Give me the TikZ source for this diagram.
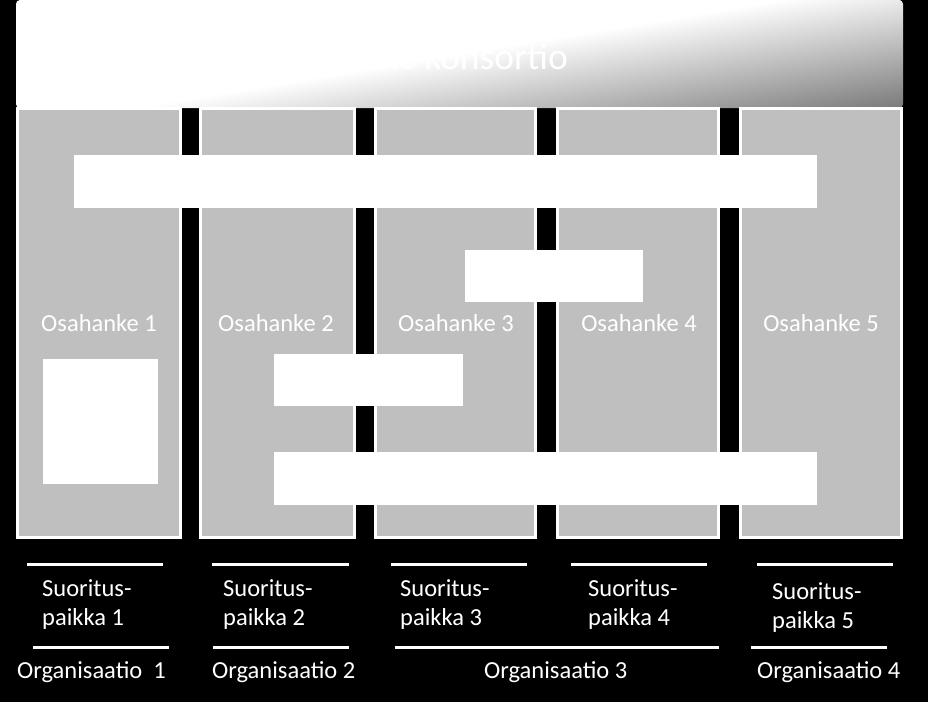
\documentclass[tikz,border=0pt]{standalone}
\usepackage{fontspec}
\setmainfont{Carlito}
\definecolor{colgray}{HTML}{BFBFBF}
\definecolor{bannerdark}{HTML}{7A7A7A}
\begin{document}
\begin{tikzpicture}[x=1pt,y=-1pt,
  colbox/.style={draw=white, line width=3pt, fill=colgray, inner sep=0pt, outer sep=0pt, anchor=north west},
  barbox/.style={fill=white, inner sep=0pt, outer sep=0pt, anchor=north west},
  lbl/.style={text=white, font=\fontsize{24.5}{29}\selectfont, inner sep=0pt},
  rule/.style={draw=white, line width=3pt}]
\fill[black] (0,0) rectangle (928,702);
\useasboundingbox (0,0) rectangle (928,702);
% banner with diagonal gradient
\begin{scope}
  \clip[rounded corners=4pt] (16,0) rectangle (903,108);
  \fill[white] (16,0) rectangle (903,108);
  \begin{scope}[transform canvas={xslant=6}]
    \shade[left color=white, right color=bannerdark] (780,0) rectangle (1550,108);
  \end{scope}
\end{scope}
\node[inner sep=0pt, outer sep=0pt, minimum width=887pt, minimum height=108pt, anchor=north west] (banner) at (16,0) {};
\node[lbl, font=\fontsize{37.5}{44}\selectfont, anchor=base east] (title) at (568,69) {Hanke konsortio};
% columns
\node[colbox, minimum width=163pt, minimum height=429pt] (c1) at (17.5,108.5) {};
\node[colbox, minimum width=154pt, minimum height=429pt] (c2) at (200.5,108.5) {};
\node[colbox, minimum width=160pt, minimum height=429pt] (c3) at (375.5,108.5) {};
\node[colbox, minimum width=161pt, minimum height=429pt] (c4) at (557.5,108.5) {};
\node[colbox, minimum width=161pt, minimum height=429pt] (c5) at (740.5,108.5) {};
% white bars
\node[barbox, minimum width=743pt, minimum height=53pt] (b1) at (74,155) {};
\node[barbox, minimum width=178pt, minimum height=52pt] (b2) at (465,250) {};
\node[barbox, minimum width=189pt, minimum height=52pt] (b3) at (274,354) {};
\node[barbox, minimum width=543pt, minimum height=53pt] (b4) at (274,452) {};
\node[barbox, minimum width=115pt, minimum height=125pt] (sq) at (43,359) {};
% column labels
\node[lbl, anchor=base] (o1) at (99,331) {Osahanke 1};
\node[lbl, anchor=base] (o2) at (276,331) {Osahanke 2};
\node[lbl, anchor=base] (o3) at (456,331) {Osahanke 3};
\node[lbl, anchor=base] (o4) at (639,331) {Osahanke 4};
\node[lbl, anchor=base] (o5) at (821,331) {Osahanke 5};
% rules
\draw[rule] (27,564) -- (163,564);
\draw[rule] (212,564) -- (349,564);
\draw[rule] (391,564) -- (527,564);
\draw[rule] (571,564) -- (707,564);
\draw[rule] (757,564) -- (893,564);
\draw[rule] (33,647) -- (169,647);
\draw[rule] (213,647) -- (349,647);
\draw[rule] (395,647) -- (719,647);
\draw[rule] (751,647) -- (887,647);
% place labels
\node[lbl, anchor=base west, align=left] (s1) at (42,625) {Suoritus-\\paikka 1};
\node[lbl, anchor=base west, align=left] (s2) at (223,625) {Suoritus-\\paikka 2};
\node[lbl, anchor=base west, align=left] (s3) at (400,625) {Suoritus-\\paikka 3};
\node[lbl, anchor=base west, align=left] (s4) at (588,625) {Suoritus-\\paikka 4};
\node[lbl, anchor=base west, align=left] (s5) at (772,628) {Suoritus-\\paikka 5};
% organisations
\node[lbl, anchor=base west] (g1) at (17,678) {Organisaatio\ \ 1};
\node[lbl, anchor=base west] (g2) at (212,678) {Organisaatio 2};
\node[lbl, anchor=base west] (g3) at (484,678) {Organisaatio 3};
\node[lbl, anchor=base west] (g4) at (757,678) {Organisaatio 4};
\end{tikzpicture}
\end{document}
